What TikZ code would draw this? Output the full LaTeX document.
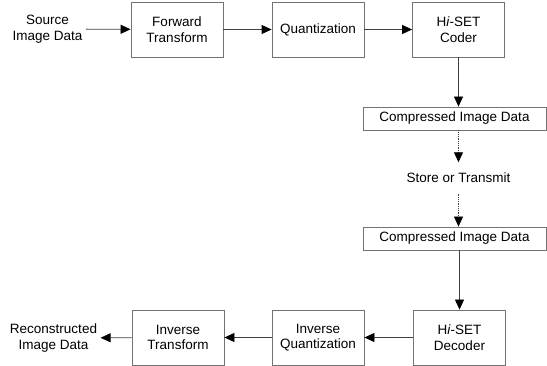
\documentclass[tikz,border=0pt]{standalone}
\usepackage{fontspec}
\setmainfont{Liberation Sans}
\usetikzlibrary{arrows.meta,positioning}

\begin{document}
\begin{tikzpicture}[x=1pt,y=-1pt,
    every node/.style={font=\fontsize{13.5}{15.5}\selectfont,align=center},
    blockbox/.style={draw=black!55,line width=0.8pt,inner sep=0pt,
                     minimum width=92pt,minimum height=55pt},
    databox/.style={draw=black!55,line width=0.8pt,inner sep=0pt,
                    minimum width=183pt,minimum height=23pt},
    flow/.style={draw=black!75,line width=0.8pt,
                 -{Triangle[length=10pt,width=9pt,color=black]}},
    storeflow/.style={flow,densely dotted}]
  \useasboundingbox (0,0) rectangle (547,366);
  % encoder
  \node (src) at (47.5,29) {Source\\Image Data};
  \node[blockbox] (fwd) at (177,29.5) {Forward\\Transform};
  \node[blockbox] (quant) at (318,29.5) {Quantization};
  \node[blockbox] (coder) at (458.5,29.5) {H\textit{i}-SET\\Coder};
  \draw[flow] (src) -- (fwd);
  \draw[flow] (fwd) -- (quant);
  \draw[flow] (quant) -- (coder);
  % channel
  \node[databox] (comp1) at (454.5,118.5) {Compressed Image Data};
  \node[inner sep=0pt,minimum height=31pt] (store) at (458.5,178) {Store or Transmit};
  \node[databox] (comp2) at (454.5,238.5) {Compressed Image Data};
  \draw[flow] (coder.south) -- (coder.south |- comp1.north);
  \draw[storeflow] (store.north |- comp1.south) -- (store.north);
  \draw[storeflow] (store.south) -- (store.south |- comp2.north);
  % decoder
  \node[blockbox] (decoder) at (459.5,337.5) {H\textit{i}-SET\\Decoder};
  \node[blockbox] (iquant) at (318,337.5) {Inverse\\Quantization};
  \node[blockbox] (itrans) at (178,337.5) {Inverse\\Transform};
  \node (rec) at (53.5,338) {Reconstructed\\Image Data};
  \draw[flow] (decoder.north |- comp2.south) -- (decoder.north);
  \draw[flow] (decoder) -- (iquant);
  \draw[flow] (iquant) -- (itrans);
  \draw[flow] (itrans) -- (rec);
\end{tikzpicture}
\end{document}
